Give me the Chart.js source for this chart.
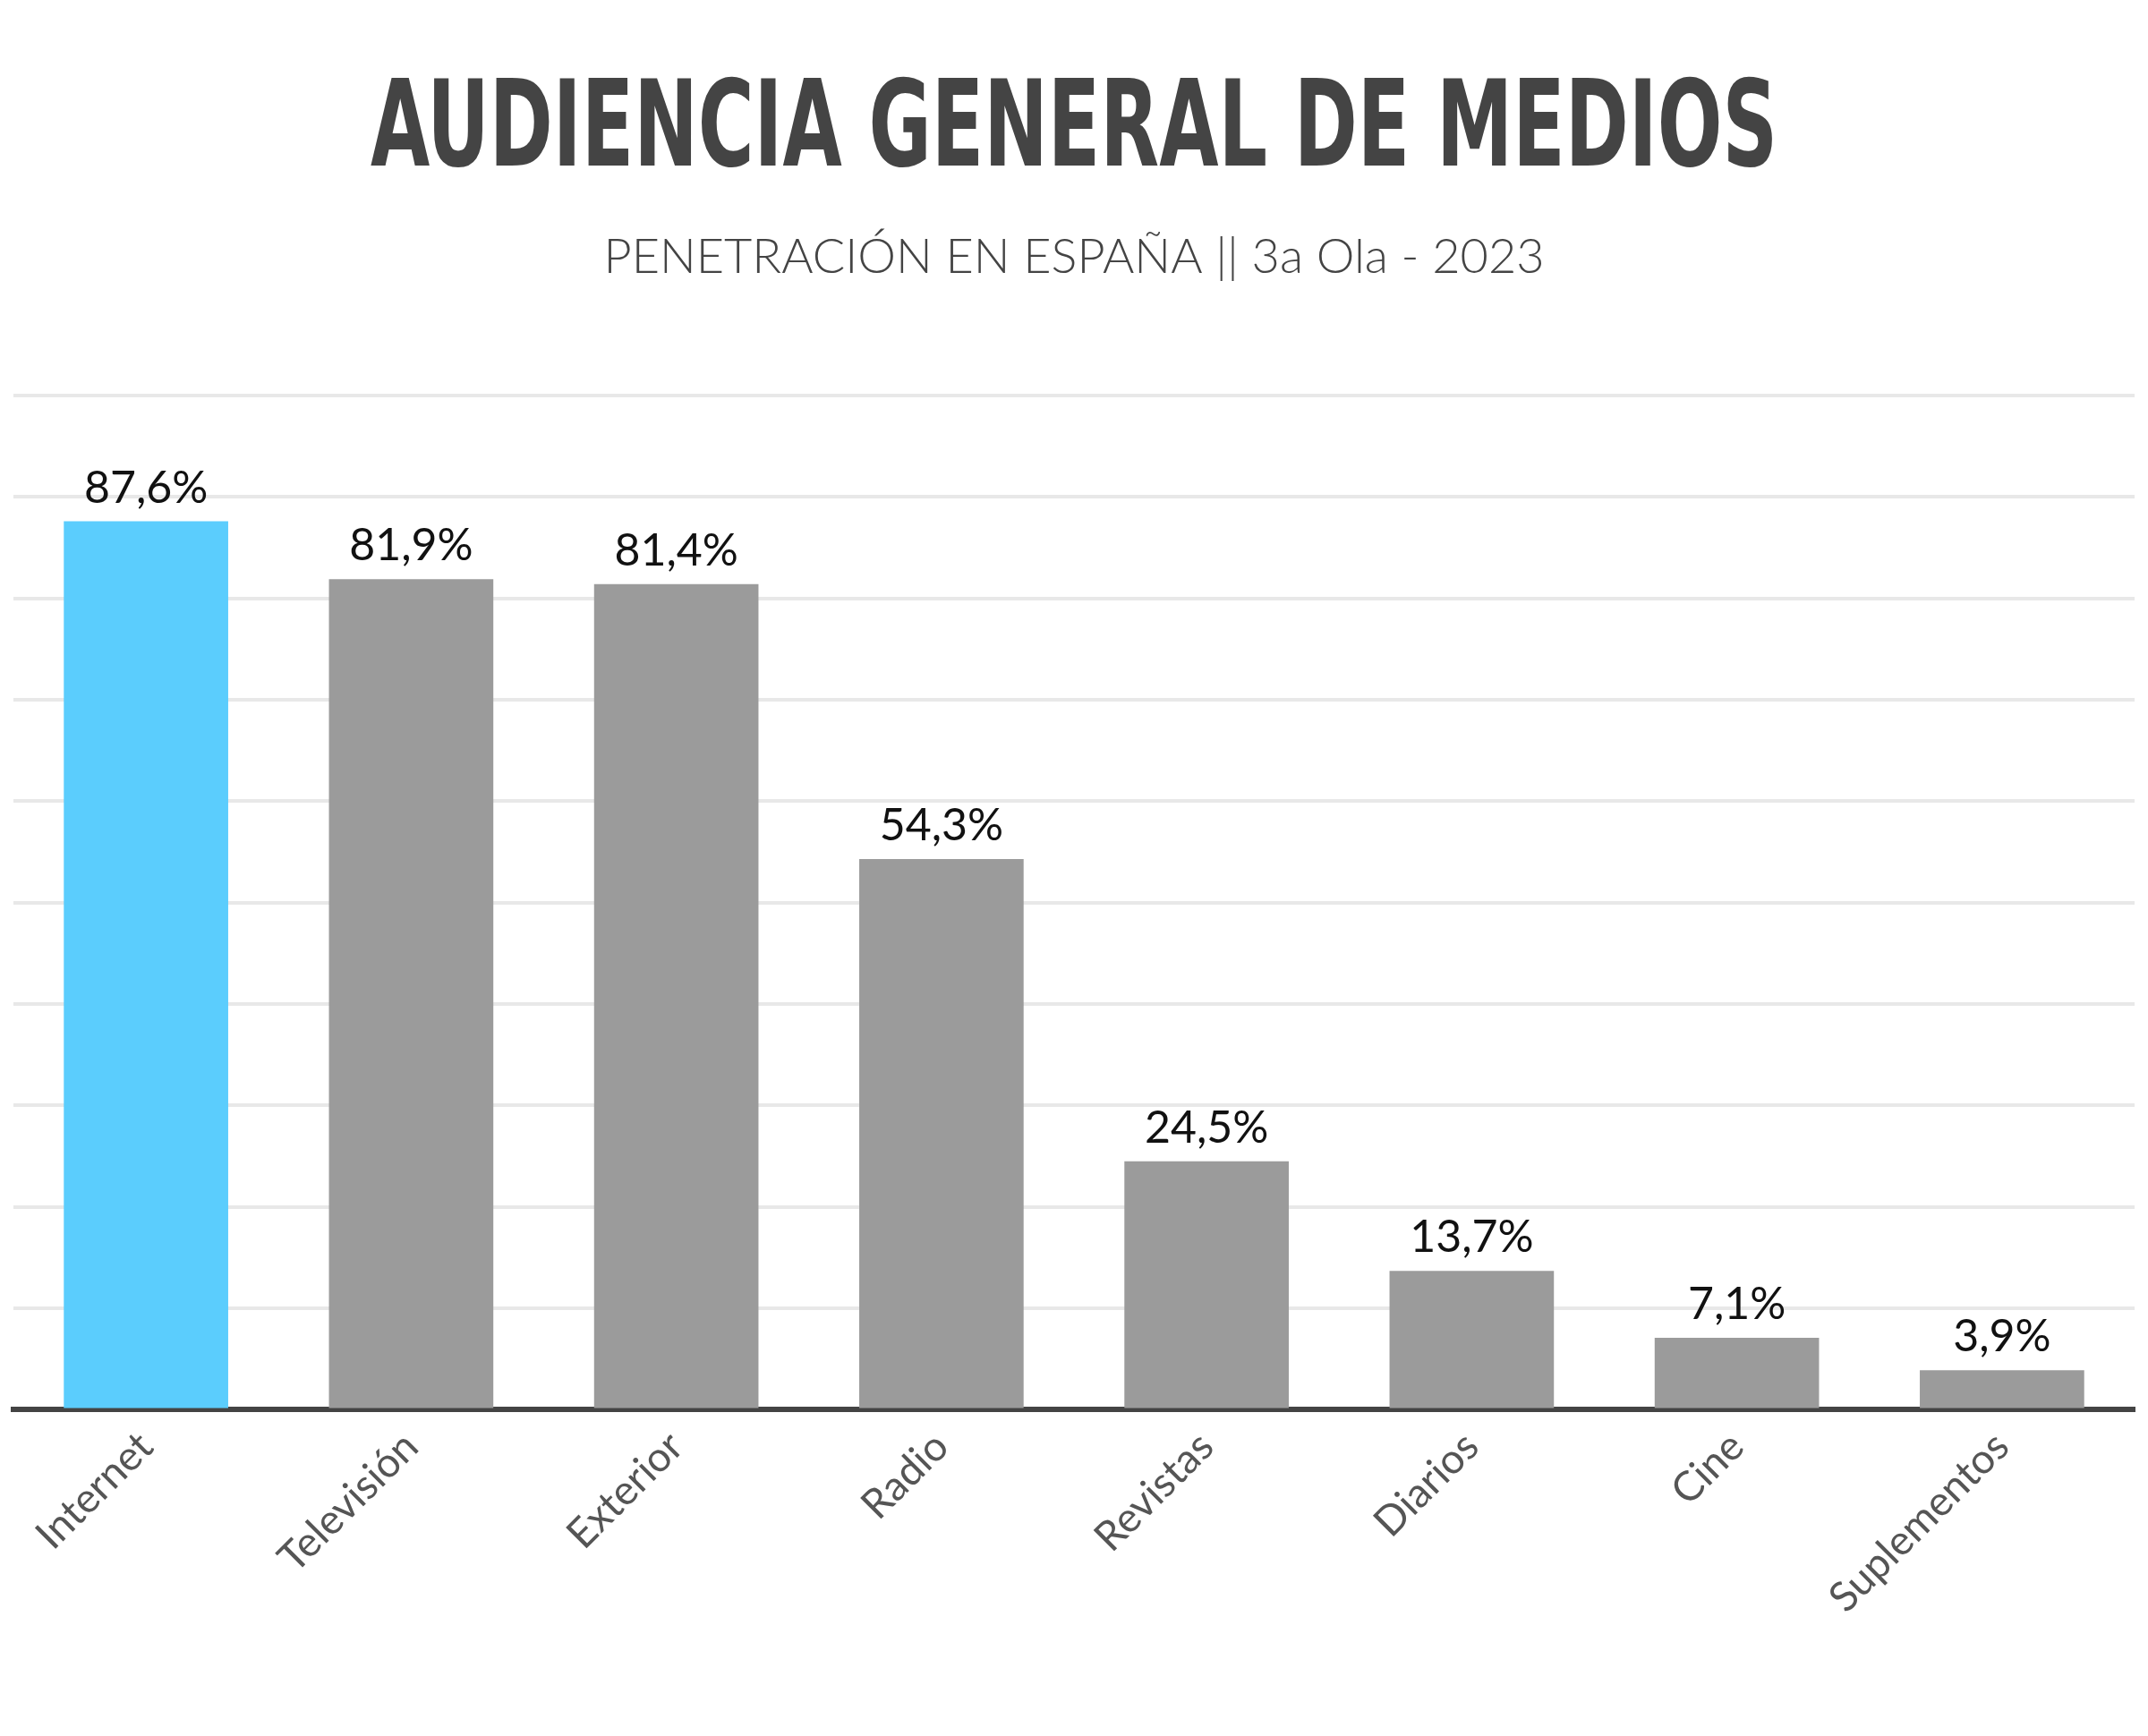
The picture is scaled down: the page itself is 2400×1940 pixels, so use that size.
<!DOCTYPE html>
<html>
<head>
<meta charset="utf-8">
<script src="https://cdn.jsdelivr.net/npm/chart.js@4"></script>
<style>
  body { margin: 0; background: #fff; }
  canvas { display: block; }
</style>
</head>
<body>
<canvas id="chart" width="2400" height="1940"></canvas>
<script>
// datos
const categories = ['Internet', 'Televisión', 'Exterior', 'Radio', 'Revistas', 'Diarios', 'Cine', 'Suplementos'];
const values = [87.6, 81.9, 81.4, 54.3, 24.5, 13.7, 7.1, 3.9];
const valueLabels = ['87,6%', '81,9%', '81,4%', '54,3%', '24,5%', '13,7%', '7,1%', '3,9%'];
const barColors = ['#5bcdfd', '#9b9b9b', '#9b9b9b', '#9b9b9b', '#9b9b9b', '#9b9b9b', '#9b9b9b', '#9b9b9b'];
const titleText = 'AUDIENCIA GENERAL DE MEDIOS';
const subtitleText = 'PENETRACIÓN EN ESPAÑA || 3a Ola - 2023';

// titulos y etiquetas de valor
const decorPlugin = {
    id: 'decor',
    afterDraw(chart) {
        const ctx = chart.ctx;
        ctx.save();
        ctx.textAlign = 'center';
        ctx.textBaseline = 'alphabetic';
        ctx.fillStyle = '#444';
        // titulo condensado
        ctx.save();
        ctx.translate(1200, 185);
        ctx.scale(0.71, 1);
        ctx.font = 'bold 134px "DejaVu Sans Condensed", "Liberation Sans Narrow", sans-serif';
        ctx.fillText(titleText, 0, 0);
        ctx.restore();
        ctx.font = '300 54px Lato, "Open Sans", sans-serif';
        ctx.fillText(subtitleText, 1200, 305);

        ctx.fillStyle = '#111';
        ctx.font = '50px Lato, "Open Sans", sans-serif';
        ctx.textBaseline = 'bottom';
        const meta = chart.getDatasetMeta(0);
        meta.data.forEach((bar, i) => {
            ctx.fillText(valueLabels[i], bar.x, bar.y - 12);
        });
        ctx.restore();
    }
};

const ctx = document.getElementById('chart').getContext('2d');
new Chart(ctx, {
    type: 'bar',
    data: {
        labels: categories,
        datasets: [{
            data: values,
            backgroundColor: barColors,
            borderWidth: 0,
            barPercentage: 0.62,
            categoryPercentage: 1
        }]
    },
    options: {
        responsive: false,
        animation: false,
        devicePixelRatio: 1,
        layout: { padding: { top: 442, left: 15, right: 15, bottom: 121 } },
        plugins: {
            legend: { display: false },
            tooltip: { enabled: false }
        },
        scales: {
            x: {
                grid: { display: false },
                border: { color: '#444', width: 6 },
                ticks: {
                    color: '#555',
                    font: { size: 46, family: 'Lato, "Open Sans", sans-serif' },
                    minRotation: 45,
                    maxRotation: 45,
                    padding: 6
                }
            },
            y: {
                min: 0,
                max: 100,
                ticks: { display: false, stepSize: 10 },
                border: { display: false },
                grid: { color: '#e8e8e8', lineWidth: 4, drawTicks: false }
            }
        }
    },
    plugins: [decorPlugin]
});
</script>
</body>
</html>
